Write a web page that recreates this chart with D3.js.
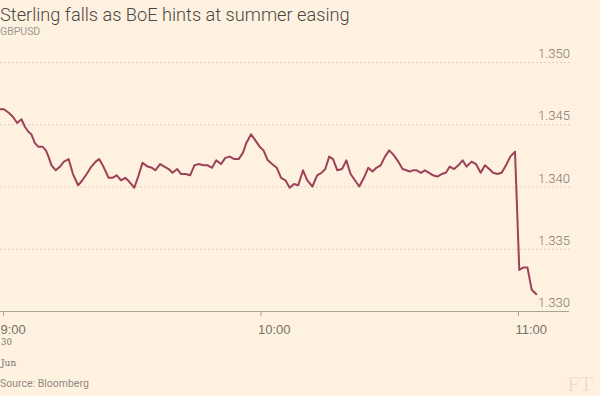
<!DOCTYPE html>
<html>
<head>
<meta charset="utf-8">
<script src="https://cdn.jsdelivr.net/npm/d3@7/dist/d3.min.js"></script>
<style>
  body { margin: 0; background: #fff1e0; }
  svg { display: block; font-family: Roboto, "Open Sans", sans-serif; }
  .grid line { stroke: #ddd1c4; stroke-dasharray: 2,2; }
  .ylab { fill: #7a7670; font-size: 13px; font-weight: 300; }
  .xaxis text { fill: #74736c; font-size: 13px; font-weight: 300; }
</style>
</head>
<body>
<script>

var width = 600;
var height = 396;

// GBPUSD, 30 Jun, minutes after 9:00
var minutesAfter9 = [
  -0.9,0.2,1.4,2.3,3.3,4.3,5.1,5.9,6.6,7.4,
  8.2,9.2,10.0,10.6,11.3,12.3,13.3,14.2,15.3,16.3,
  17.5,18.5,19.5,20.6,21.6,22.4,23.4,24.6,25.5,26.5,
  27.5,28.5,29.4,30.6,31.6,32.5,33.7,34.7,35.5,36.6,
  37.6,38.6,39.5,40.6,41.5,42.5,43.6,44.6,45.6,46.7,
  47.7,48.7,49.7,50.8,51.8,52.8,53.9,54.9,55.9,56.7,
  57.8,58.8,59.8,60.7,61.7,62.7,63.8,64.8,65.8,66.8,
  67.8,68.8,69.9,70.9,72.1,73.2,74.2,75.1,76.0,76.9,
  77.9,79.0,80.0,81.0,82.0,83.0,84.1,85.1,86.1,87.0,
  88.0,89.0,90.0,91.1,92.1,93.1,94.0,94.8,95.5,96.4,
  97.4,98.3,99.3,100.2,101.2,102.2,103.2,104.1,105.1,106.1,
  107.1,108.0,109.2,110.2,111.3,112.3,113.3,114.2,115.2,116.2,
  117.2,118.2,119.3,120.3,121.3,122.2,123.2,124.4
];

var gbpusd = [
  1.3462,1.3462,1.3459,1.3456,1.3451,1.3454,1.3448,1.3444,1.3442,1.3435,
  1.3432,1.3432,1.3429,1.3424,1.3417,1.3413,1.3416,1.3420,1.3422,1.3410,
  1.3401,1.3405,1.3410,1.3416,1.3420,1.3422,1.3416,1.3407,1.3407,1.3409,
  1.3405,1.3407,1.3404,1.3399,1.3409,1.3419,1.3416,1.3415,1.3413,1.3418,
  1.3416,1.3414,1.3411,1.3414,1.3410,1.3410,1.3409,1.3417,1.3418,1.3417,
  1.3417,1.3415,1.3421,1.3418,1.3423,1.3424,1.3422,1.3422,1.3427,1.3435,
  1.3442,1.3437,1.3432,1.3429,1.3421,1.3418,1.3415,1.3407,1.3405,1.3399,
  1.3402,1.3401,1.3413,1.3405,1.3400,1.3409,1.3411,1.3414,1.3424,1.3422,
  1.3413,1.3414,1.3421,1.3410,1.3405,1.3400,1.3407,1.3415,1.3412,1.3415,
  1.3417,1.3424,1.3429,1.3425,1.3420,1.3414,1.3413,1.3412,1.3413,1.3413,
  1.3411,1.3413,1.3411,1.3409,1.3408,1.3410,1.3411,1.3416,1.3414,1.3417,
  1.3421,1.3416,1.3420,1.3418,1.3411,1.3417,1.3414,1.3411,1.3410,1.3411,
  1.3417,1.3424,1.3428,1.3333,1.3335,1.3335,1.3317,1.3313
];

var yTicks = [1.330, 1.335, 1.340, 1.345, 1.350];
var xTickLabels = ['9:00', '10:00', '11:00'];
var xTickHours = [9, 10, 11];

var day = new Date(2016, 5, 30, 9, 0);
var data = minutesAfter9.map(function(m, i) {
  return { t: new Date(day.getTime() + m * 60000), v: gbpusd[i] };
});

var x = d3.scaleTime()
    .domain([new Date(2016, 5, 30, 9, 0), new Date(2016, 5, 30, 11, 0)])
    .range([3, 518]);

var y = d3.scaleLinear()
    .domain([1.330, 1.350])
    .range([311, 62]);

var svg = d3.select('body')
    .append('svg')
    .attr('width', width)
    .attr('height', height);

svg.append('rect').attr('width', width).attr('height', height).attr('fill', '#fff1e0');

// title
svg.append('text')
    .attr('x', 0).attr('y', 21)
    .attr('fill', '#4a4743')
    .style('font-size', '18.2px')
    .style('font-weight', 300)
    .text('Sterling falls as BoE hints at summer easing');

svg.append('text')
    .attr('x', 0).attr('y', 35)
    .attr('fill', '#9e9a94')
    .style('font-size', '10.5px')
    .text('GBPUSD');

// gridlines + y labels
var grid = svg.append('g').attr('class', 'grid');
grid.selectAll('line')
    .data(yTicks.slice(1))
    .enter()
    .append('line')
    .attr('x1', 0).attr('x2', 570)
    .attr('y1', function(d) { return y(d) + 0.5; })
    .attr('y2', function(d) { return y(d) + 0.5; });

svg.selectAll('.ylab')
    .data(yTicks)
    .enter()
    .append('text')
    .attr('class', 'ylab')
    .attr('x', 570)
    .attr('y', function(d) { return y(d) - 4; })
    .attr('text-anchor', 'end')
    .text(d3.format('.3f'));

// x axis
var xAxis = d3.axisBottom(x)
    .tickValues(xTickHours.map(function(h) { return new Date(2016, 5, 30, h, 0); }))
    .tickSize(5)
    .tickPadding(6)
    .tickFormat(function(d, i) { return xTickLabels[i]; });

var gx = svg.append('g')
    .attr('class', 'xaxis')
    .attr('transform', 'translate(0,' + 311 + ')')
    .call(xAxis);
gx.select('.domain').remove();
gx.selectAll('line').attr('stroke', '#a7a59b');
gx.selectAll('text').attr('text-anchor', 'start').attr('dx', -3).attr('dy', '0.9em');

svg.append('line')
    .attr('x1', 0).attr('x2', 569)
    .attr('y1', 311.5).attr('y2', 311.5)
    .attr('stroke', '#a7a59b');

// line
var line = d3.line()
    .x(function(d) { return x(d.t); })
    .y(function(d) { return y(d.v); });

svg.append('path')
    .datum(data)
    .attr('d', line)
    .attr('fill', 'none')
    .attr('stroke', '#9d4159')
    .attr('stroke-width', 2)
    .attr('stroke-linejoin', 'round');

// date label under first tick
svg.append('text')
    .attr('x', 1).attr('y', 345)
    .attr('fill', '#74736c')
    .style('font-family', '"DejaVu Serif", serif')
    .style('font-size', '8.5px')
    .text('30');
svg.append('text')
    .attr('x', 1).attr('y', 366)
    .attr('fill', '#74736c')
    .style('font-family', '"DejaVu Serif", serif')
    .style('font-size', '9px')
    .text('Jun');

svg.append('text')
    .attr('x', 0).attr('y', 387)
    .attr('fill', '#8f8a84')
    .style('font-size', '10.5px')
    .text('Source: Bloomberg');

svg.append('text')
    .attr('x', 593).attr('y', 391)
    .attr('text-anchor', 'end')
    .attr('fill', '#ede0cf')
    .style('font-family', '"Liberation Serif", serif')
    .style('font-size', '22px')
    .text('FT');

</script>
</body>
</html>
